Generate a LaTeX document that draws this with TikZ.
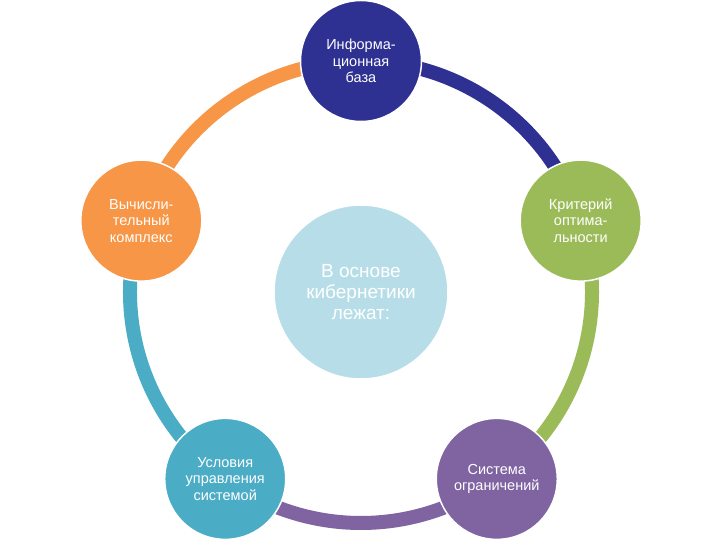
\documentclass[tikz,border=0pt]{standalone}
\usepackage{fontspec}
\setmainfont{Liberation Sans}
\usetikzlibrary{positioning}
\definecolor{infoblue}{HTML}{2E3192}
\definecolor{critgreen}{HTML}{9BBB59}
\definecolor{limpurple}{HTML}{8064A2}
\definecolor{condteal}{HTML}{4BACC6}
\definecolor{compor}{HTML}{F79646}
\definecolor{basecyan}{HTML}{B7DEE8}
\tikzset{
  bubble/.style={circle, draw=white, line width=1.5pt, minimum size=121pt,
    inner sep=0pt, text=white, align=center, font=\fontsize{14.5}{16.5}\selectfont},
  ring/.style={line width=14pt}
}

\begin{document}
\begin{tikzpicture}[x=1pt,y=1pt]
  \useasboundingbox[fill=white] (-361,-248) rectangle (359,292);
  \coordinate (mid) at (0,0);
  \coordinate (p1) at (90:231);
  \coordinate (p2) at (18:231);
  \coordinate (p3) at (-54:231);
  \coordinate (p4) at (-126:231);
  \coordinate (p5) at (162:231);
  \draw[ring, infoblue] (p1) arc[start angle=90, end angle=18, radius=231];
  \draw[ring, critgreen] (p2) arc[start angle=18, end angle=-54, radius=231];
  \draw[ring, limpurple] (p3) arc[start angle=-54, end angle=-126, radius=231];
  \draw[ring, condteal] (p4) arc[start angle=234, end angle=162, radius=231];
  \draw[ring, compor] (p5) arc[start angle=162, end angle=90, radius=231];
  \node[bubble, fill=basecyan, minimum size=174pt, font=\fontsize{19}{21}\selectfont] (core) at (mid) {В основе\\кибернетики\\лежат:};
  \node[bubble, fill=infoblue] (info) at (p1) {Информа-\\ционная\\база};
  \node[bubble, fill=critgreen] (crit) at (p2) {Критерий\\оптима-\\льности};
  \node[bubble, fill=limpurple] (lim) at (p3) {Система\\ограничений};
  \node[bubble, fill=condteal] (cond) at (p4) {Условия\\управления\\системой};
  \node[bubble, fill=compor] (comp) at (p5) {Вычисли-\\тельный\\комплекс};
\end{tikzpicture}
\end{document}
